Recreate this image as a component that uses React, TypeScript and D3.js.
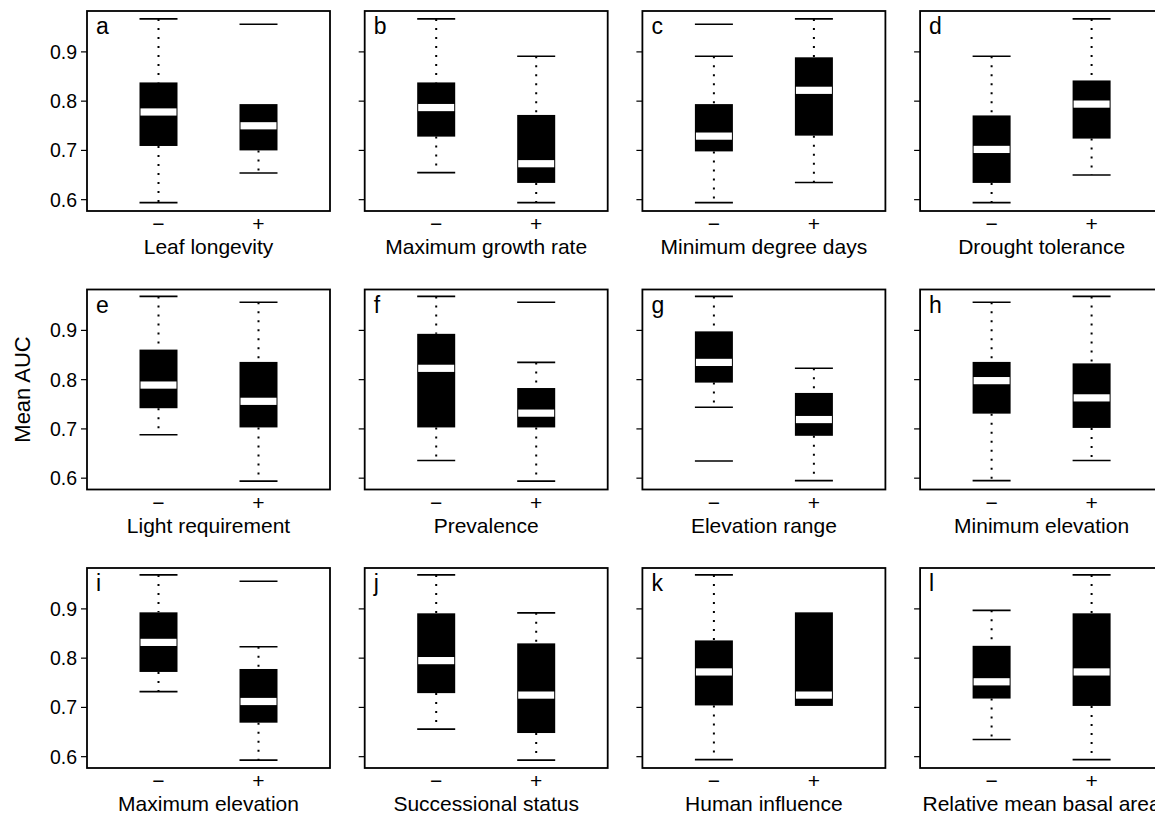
import React from "react";
import * as d3 from "d3";

// Panel annotations and trait names
const panelLetters = ["a", "b", "c", "d", "e", "f", "g", "h", "i", "j", "k", "l"];
const traitNames = [
  "Leaf longevity",
  "Maximum growth rate",
  "Minimum degree days",
  "Drought tolerance",
  "Light requirement",
  "Prevalence",
  "Elevation range",
  "Minimum elevation",
  "Maximum elevation",
  "Successional status",
  "Human influence",
  "Relative mean basal area",
];
const groupLabels = ["\u2212", "+"];
const yTicks = [0.6, 0.7, 0.8, 0.9];
const yDomain: [number, number] = [0.577, 0.983];

// Box statistics per panel: [minus group, plus group]
const lowerWhisker: [number, number][] = [
  [0.594, 0.654], [0.655, 0.594], [0.594, 0.635], [0.594, 0.650],
  [0.688, 0.594], [0.636, 0.594], [0.744, 0.595], [0.595, 0.636],
  [0.732, 0.593], [0.656, 0.593], [0.594, 0.703], [0.635, 0.594],
];
const lowerHinge: [number, number][] = [
  [0.709, 0.700], [0.728, 0.634], [0.698, 0.730], [0.634, 0.724],
  [0.742, 0.703], [0.703, 0.703], [0.794, 0.686], [0.731, 0.702],
  [0.772, 0.669], [0.729, 0.648], [0.704, 0.703], [0.718, 0.703],
];
const medians: [number, number][] = [
  [0.778, 0.750], [0.787, 0.673], [0.729, 0.822], [0.702, 0.794],
  [0.789, 0.756], [0.823, 0.732], [0.835, 0.719], [0.798, 0.763],
  [0.832, 0.712], [0.795, 0.725], [0.772, 0.725], [0.752, 0.772],
];
const upperHinge: [number, number][] = [
  [0.838, 0.794], [0.838, 0.772], [0.794, 0.889], [0.771, 0.842],
  [0.861, 0.836], [0.893, 0.783], [0.898, 0.773], [0.836, 0.833],
  [0.893, 0.778], [0.891, 0.830], [0.836, 0.893], [0.825, 0.891],
];
const upperWhisker: [number, number][] = [
  [0.967, 0.794], [0.967, 0.891], [0.891, 0.967], [0.891, 0.967],
  [0.969, 0.957], [0.969, 0.835], [0.969, 0.823], [0.957, 0.969],
  [0.969, 0.823], [0.969, 0.892], [0.969, 0.893], [0.897, 0.969],
];
const outliers: [number[], number[]][] = [
  [[], [0.956]], [[], []], [[0.956], []], [[], []],
  [[], []], [[], [0.957]], [[0.635], []], [[], []],
  [[], [0.956]], [[], []], [[], []], [[], []],
];

const W = 1155;
const H = 816;
const panelW = 243;
const panelH = 200;
const colX = [87, 364.7, 642.4, 920.1];
const rowY = [11, 289.5, 568];
const boxW = 38;
const font = "'Liberation Sans', Arial, Helvetica, sans-serif";

function Panel({ idx }: { idx: number }) {
  const col = idx % 4;
  const row = Math.floor(idx / 4);
  const x0 = colX[col];
  const y0 = rowY[row];

  const y = d3.scaleLinear().domain(yDomain).range([panelH, 0]);
  const x = d3.scalePoint<string>().domain(groupLabels).range([0, panelW]).padding(0.715);

  const half = boxW / 2;

  return (
    <g transform={`translate(${x0},${y0})`}>
      {/* left axis ticks */}
      {yTicks.map((t) => (
        <g key={t}>
          <line x1={-6} x2={0} y1={y(t)} y2={y(t)} stroke="#000" strokeWidth={1.2} />
          {col === 0 && (
            <text
              x={-10}
              y={y(t)}
              dy="0.36em"
              textAnchor="end"
              fontSize={19.5}
              fontFamily={font}
              fill="#000"
            >
              {t.toFixed(1)}
            </text>
          )}
        </g>
      ))}

      {groupLabels.map((g, gi) => {
        const cx = x(g) as number;
        const lw = lowerWhisker[idx][gi];
        const q1 = lowerHinge[idx][gi];
        const md = medians[idx][gi];
        const q3 = upperHinge[idx][gi];
        const uw = upperWhisker[idx][gi];
        return (
          <g key={g}>
            {/* whiskers */}
            {uw > q3 && (
              <line x1={cx} x2={cx} y1={y(uw)} y2={y(q3)} stroke="#000" strokeWidth={2} strokeDasharray="2 7" />
            )}
            {lw < q1 && (
              <line x1={cx} x2={cx} y1={y(q1)} y2={y(lw)} stroke="#000" strokeWidth={2} strokeDasharray="2 7" />
            )}
            {uw > q3 && (
              <line x1={cx - half} x2={cx + half} y1={y(uw)} y2={y(uw)} stroke="#000" strokeWidth={1.6} />
            )}
            {lw < q1 && (
              <line x1={cx - half} x2={cx + half} y1={y(lw)} y2={y(lw)} stroke="#000" strokeWidth={1.6} />
            )}
            {/* box */}
            <rect x={cx - half} y={y(q3)} width={boxW} height={y(q1) - y(q3)} fill="#000" />
            {/* median */}
            <rect x={cx - half + 1} y={y(md) - 3.6} width={boxW - 2} height={7.2} fill="#fff" />
            {/* outliers */}
            {outliers[idx][gi].map((o, oi) => (
              <line key={oi} x1={cx - half} x2={cx + half} y1={y(o)} y2={y(o)} stroke="#000" strokeWidth={1.6} />
            ))}
            {/* group label */}
            <text
              x={cx}
              y={panelH + 12.5}
              dy="0.36em"
              textAnchor="middle"
              fontSize={21}
              fontFamily={font}
              fill="#000"
            >
              {g}
            </text>
          </g>
        );
      })}

      {/* frame */}
      <rect x={0} y={0} width={panelW} height={panelH} fill="none" stroke="#000" strokeWidth={1.8} />

      {/* panel letter */}
      <text x={9} y={23} fontSize={23} fontFamily={font} fill="#000">
        {panelLetters[idx]}
      </text>

      {/* trait title */}
      <text
        x={panelW / 2}
        y={panelH + 35.5}
        dy="0.36em"
        textAnchor="middle"
        fontSize={21}
        fontFamily={font}
        fill="#000"
      >
        {traitNames[idx]}
      </text>
    </g>
  );
}

export default function App() {
  return (
    <div style={{ position: "absolute", left: 0, top: 0 }}>
      <svg width={W} height={H} style={{ display: "block", background: "#fff" }}>
        <rect width={W} height={H} fill="#fff" />
        {panelLetters.map((_, i) => (
          <Panel key={i} idx={i} />
        ))}
        <text
          transform={`translate(22,${rowY[1] + panelH / 2}) rotate(-90)`}
          textAnchor="middle"
          dy="0.36em"
          fontSize={22}
          fontFamily={font}
          fill="#000"
        >
          Mean AUC
        </text>
      </svg>
    </div>
  );
}
